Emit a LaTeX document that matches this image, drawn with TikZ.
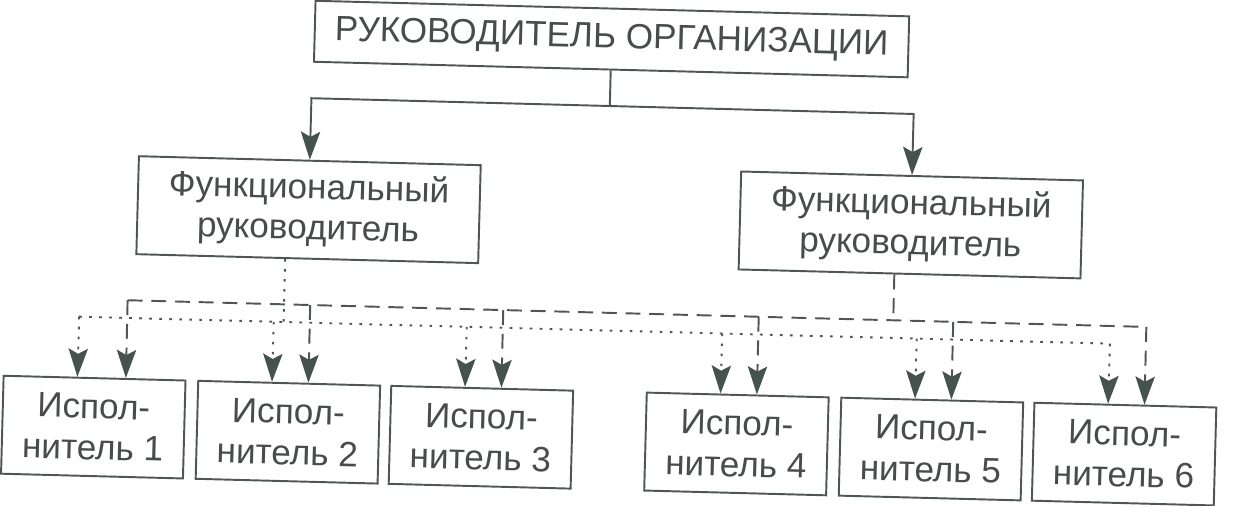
\documentclass[tikz,border=0pt]{standalone}
\usepackage{fontspec}
\setmainfont{Liberation Sans}
\usetikzlibrary{arrows.meta,calc}
\definecolor{ink}{RGB}{80,86,84}
\definecolor{tipc}{RGB}{70,82,78}
\definecolor{txt}{RGB}{72,76,74}
\begin{document}
\begin{tikzpicture}[x=0.02cm,y=-0.02cm,
  box/.style={draw=ink, line width=1.1pt, inner sep=0pt, align=center, text=txt, transform shape},
  topbox/.style={box, minimum width=11.88cm, minimum height=1.22cm, font=\fontsize{20}{23}\selectfont},
  frbox/.style={box, minimum width=6.84cm, minimum height=1.96cm, font=\fontsize{20}{23}\selectfont},
  exbox/.style={box, minimum width=3.64cm, minimum height=1.96cm, font=\fontsize{20}{23.5}\selectfont},
  tip/.style={-{Stealth[length=16pt,width=11pt,inset=3pt,color=tipc]}},
  solidl/.style={draw=ink, line width=1.1pt},
  dashl/.style={draw=ink, line width=1.1pt, dash pattern=on 8.5pt off 5pt},
  dotl/.style={draw=ink, line width=1.1pt, dash pattern=on 1.5pt off 4.2pt},
]
\fill[white] (0,0) rectangle (1252,506);
\useasboundingbox (0,0) rectangle (1252,506);
\begin{scope}[rotate around={-1.5:(626,253)}]
  % nodes
  \node[topbox] (top) at (606,39.5) {РУКОВОДИТЕЛЬ ОРГАНИЗАЦИИ};
  \node[frbox] (fr1) at (307.5,218) {Функциональный\\руководитель};
  \node[frbox] (fr2) at (910,217.5) {Функциональный\\руководитель};
  \node[exbox] (b1) at (98,441) {Испол-\\нитель 1};
  \node[exbox] (b2) at (292.7,441) {Испол-\\нитель 2};
  \node[exbox] (b3) at (485.8,441) {Испол-\\нитель 3};
  \node[exbox] (b4) at (741.4,441) {Испол-\\нитель 4};
  \node[exbox] (b5) at (936,441) {Испол-\\нитель 5};
  \node[exbox] (b6) at (1129.2,441) {Испол-\\нитель 6};
  % junction points
  \coordinate (e) at (606,106.5);
  \coordinate (el) at (307.5,106.5);
  \coordinate (er) at (910,106.5);
  \coordinate (ds) at (285.5,331);
  \coordinate (dsr) at (895,313.3);
  \coordinate (p1) at (81,331);
  \coordinate (p2) at (275.7,331);
  \coordinate (p3) at (468.8,331);
  \coordinate (p4) at (724.4,331);
  \coordinate (p5) at (919,331);
  \coordinate (p6) at (1112.2,331);
  \coordinate (q1) at (129,313.3);
  \coordinate (q2) at (311.7,313.3);
  \coordinate (q3) at (504.8,313.3);
  \coordinate (q4) at (760.4,313.3);
  \coordinate (q5) at (955,313.3);
  \coordinate (q6) at (1148.2,313.3);
  % line subordination
  \draw[solidl] (top.south) -- (e);
  \draw[solidl, tip] (e) -- (el) -- (fr1.north);
  \draw[solidl, tip] (e) -- (er) -- (fr2.north);
  % functional links of the first manager (dotted)
  \draw[dotl] ($(fr1.south west)!0.4357!(fr1.south east)$) -- (ds);
  \draw[dotl] (p1) -- (p6);
  % functional links of the second manager (dashed)
  \draw[dashl] ($(fr2.south west)!0.456!(fr2.south east)$) -- (dsr);
  \draw[dashl] (q1) -- (q6);
  % arrows to executors
  \draw[dotl, tip] (p1) -- ($(b1.north west)!0.4066!(b1.north east)$);
  \draw[dashl, tip] (q1) -- ($(b1.north west)!0.6703!(b1.north east)$);
  \draw[dotl, tip] (p2) -- ($(b2.north west)!0.4066!(b2.north east)$);
  \draw[dashl, tip] (q2) -- ($(b2.north west)!0.6044!(b2.north east)$);
  \draw[dotl, tip] (p3) -- ($(b3.north west)!0.4066!(b3.north east)$);
  \draw[dashl, tip] (q3) -- ($(b3.north west)!0.6044!(b3.north east)$);
  \draw[dotl, tip] (p4) -- ($(b4.north west)!0.4066!(b4.north east)$);
  \draw[dashl, tip] (q4) -- ($(b4.north west)!0.6044!(b4.north east)$);
  \draw[dotl, tip] (p5) -- ($(b5.north west)!0.4066!(b5.north east)$);
  \draw[dashl, tip] (q5) -- ($(b5.north west)!0.6044!(b5.north east)$);
  \draw[dotl, tip] (p6) -- ($(b6.north west)!0.4066!(b6.north east)$);
  \draw[dashl, tip] (q6) -- ($(b6.north west)!0.6044!(b6.north east)$);
\end{scope}
\end{tikzpicture}
\end{document}
